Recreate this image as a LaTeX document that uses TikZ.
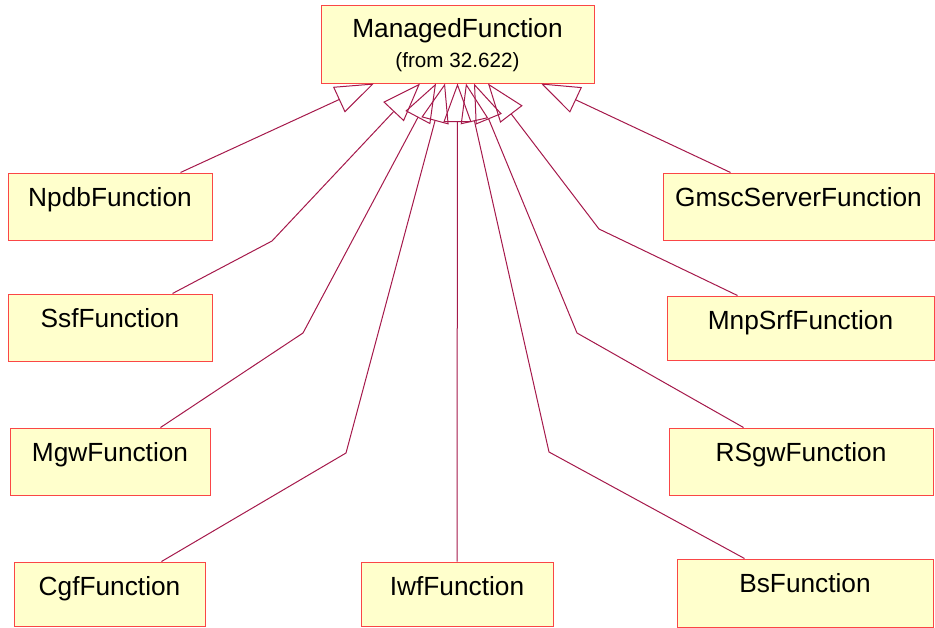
\documentclass[tikz,border=0pt]{standalone}
\usepackage{fontspec}
\setmainfont{Liberation Sans}
\usetikzlibrary{arrows.meta,calc}
\definecolor{boxfill}{RGB}{255,255,204}
\definecolor{boxline}{RGB}{250,70,70}
\definecolor{linkred}{RGB}{165,25,75}
\begin{document}
\begin{tikzpicture}[x=0.75pt,y=-0.75pt,
        base/.style={draw=boxline,fill=boxfill,line width=0.75pt,inner sep=0pt,
            text height=24.75pt,text depth=25.5pt,font=\fontsize{19.7}{22.5}\selectfont},
        short/.style={text depth=23.25pt},
        gen/.style={draw=linkred,line width=0.75pt,-{Triangle[open,length=29pt,width=21pt]}}]
        \useasboundingbox (0,0) rectangle (935,628);
        % Superclass
        \node[base,minimum width=204.75pt,text height=46.8pt,text depth=11.7pt,align=center] (mf) at (457.5,44)
            {ManagedFunction\\[0pt]{\fontsize{15.5}{22.5}\selectfont (from 32.622)}};
        % Left column
        \node[base,minimum width=153pt] (npdb) at (110,206.5) {NpdbFunction};
        \node[base,minimum width=153pt] (ssf) at (110,327.5) {SsfFunction};
        \node[base,minimum width=150pt] (mgw) at (110,461.5) {MgwFunction};
        \node[base,short,minimum width=143.25pt] (cgf) at (109.5,594) {CgfFunction};
        % Middle
        \node[base,short,minimum width=144pt] (iwf) at (457,594) {IwfFunction};
        % Right column
        \node[base,minimum width=203.25pt] (gmsc) at (798.5,206.5) {GmscServerFunction};
        \node[base,minimum width=200.25pt,text height=25pt,text depth=23pt] (mnpsrf) at (800.5,328) {MnpSrfFunction};
        \node[base,minimum width=198pt] (rsgw) at (801,461.5) {RSgwFunction};
        \node[base,minimum width=192pt,text height=25pt,text depth=26pt] (bs) at (805,593) {BsFunction};
        % Generalisations
        \draw[gen] ($(npdb.north west)+(173,0)$) -- ($(mf.south)+(-83.5,0)$);
        \draw[gen] ($(ssf.north west)+(165,0)$) -- (272,241) -- ($(mf.south)+(-37.5,0)$);
        \draw[gen] ($(mgw.north west)+(151,0)$) -- (303,333) -- ($(mf.south)+(-21.5,0)$);
        \draw[gen] ($(cgf.north west)+(148,0)$) -- (346,453) -- ($(mf.south)+(-12.5,0)$);
        \draw[gen] (iwf.north) -- (mf.south);
        \draw[gen] ($(bs.north west)+(68,0)$) -- (549,452) -- ($(mf.south)+(8.5,0)$);
        \draw[gen] ($(rsgw.north west)+(75,0)$) -- (577,333) -- ($(mf.south)+(16.5,0)$);
        \draw[gen] ($(mnpsrf.north west)+(71,0)$) -- (599,229) -- ($(mf.south)+(30.5,0)$);
        \draw[gen] ($(gmsc.north west)+(68,0)$) -- ($(mf.south)+(83.5,0)$);
    \end{tikzpicture}
\end{document}
